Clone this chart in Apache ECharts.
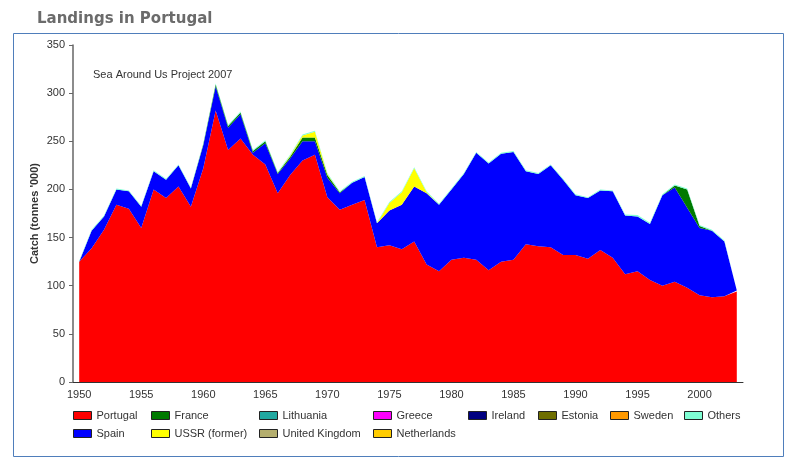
<!DOCTYPE html>
<html>
<head>
<meta charset="utf-8">
<script src="https://cdn.jsdelivr.net/npm/echarts@6/dist/echarts.min.js"></script>
<style>
html,body{margin:0;padding:0;background:#fff;}
#main{width:798px;height:467px;}
</style>
</head>
<body>
<div id="main"></div>
<script>
const years = [1950,1951,1952,1953,1954,1955,1956,1957,1958,1959,1960,1961,1962,1963,1964,1965,1966,1967,1968,1969,1970,1971,1972,1973,1974,1975,1976,1977,1978,1979,1980,1981,1982,1983,1984,1985,1986,1987,1988,1989,1990,1991,1992,1993,1994,1995,1996,1997,1998,1999,2000,2001,2002,2003];
const portugal = [125,139,158,184,180,160,200,191,203,182,222,282,241,253,236,226,196,215,230,236,192,179,184,189,140,142,138,146,122,115,127,129,127,116,125,127,143,141,140,132,132,128,137,129,112,115,106,100,104,98,90,88,89,94];
const spain = [0,18,14,16,18,22,19,19,22,19,24,25,23,25,2,22,20,17,20,14,20,17,23,24,25,36,46,57,74,69,73,87,111,111,112,112,76,75,85,78,62,63,62,69,61,57,58,94,98,83,70,69,57,1];
const france = [0,0,0,0,0,0,0,0,0,0,1,2,2,2,2,2,1,2,4,4,3,1,0,0,0,0,0,0,0,0,0,0,0,0,0,0,0,0,0,0,0,0,0,0,0,0,0,0,2,19,2,0,0,0];
const ussr = [0,0,0,0,0,0,0,0,0,0,0,0,0,0,0,0,0,1,2,6,1,0,0,0,0,8,13,19,1,0,0,0,0,0,0,0,0,0,0,0,0,0,0,0,0,0,0,0,0,0,0,0,0,0];
const others = [1,1,1,1,1,1,1,1,1,1,1,1,1,1,1,1,1,1,1,1,1,1,1,1,1,1,1,1,1,1,1,1,1,1,1,1,1,1,1,1,1,1,1,1,1,1.5,1.5,1,1,1,1,1,1,1];
const lithuania = [];
const uk = [];
const greece = [];
const netherlands = [];
const ireland = [];
const estonia = [];
const sweden = [];
const yTicks = [0,50,100,150,200,250,300,350];

const seriesDefs = [
  ['Portugal', portugal, '#FF0000'],
  ['Spain', spain, '#0000FF'],
  ['France', france, '#007A00'],
  ['USSR (former)', ussr, '#FFFF00'],
  ['Lithuania', lithuania, '#20A8A0'],
  ['United Kingdom', uk, '#B4AE6E'],
  ['Greece', greece, '#FF00FF'],
  ['Netherlands', netherlands, '#FFCC00'],
  ['Ireland', ireland, '#000080'],
  ['Estonia', estonia, '#6E6E00'],
  ['Sweden', sweden, '#FF9900'],
  ['Others', others, '#7FFFD4']
];

const legendCols = [
  [73, ['Portugal','Spain']],
  [151, ['France','USSR (former)']],
  [259, ['Lithuania','United Kingdom']],
  [373, ['Greece','Netherlands']],
  [468, ['Ireland']],
  [538, ['Estonia']],
  [610, ['Sweden']],
  [684, ['Others']]
];

const FONT = 'Liberation Sans, Arial, sans-serif';

const chart = echarts.init(document.getElementById('main'));
chart.setOption({
  animation: false,
  backgroundColor: '#fff',
  title: {
    text: 'Landings in Portugal',
    left: 32, top: 7,
    textStyle: {fontFamily: 'DejaVu Sans', fontWeight: 'bold', fontSize: 15, color: '#6b6b6b'}
  },
  graphic: [
    {type: 'rect', shape: {x: 13.5, y: 33.5, width: 770, height: 423}, style: {fill: 'none', stroke: '#4F7EBB', lineWidth: 1}, z: -1},
    {type: 'text', left: 93, top: 69, style: {text: 'Sea Around Us Project 2007', fill: '#333', font: '11px ' + FONT}}
  ],
  legend: legendCols.map(([x, names]) => ({
    orient: 'vertical', left: x, top: 410, padding: 0,
    data: names, icon: 'rect', itemWidth: 18, itemHeight: 8, itemGap: 7,
    selectedMode: false,
    itemStyle: {borderColor: '#222', borderWidth: 1},
    textStyle: {fontFamily: FONT, fontSize: 11, color: '#333'}
  })),
  grid: {left: 73, right: 55, top: 45, bottom: 85},
  xAxis: {
    type: 'category', data: years, boundaryGap: true,
    axisLine: {lineStyle: {color: '#333', width: 1}},
    axisTick: {interval: 4, alignWithLabel: true, length: 3, lineStyle: {color: '#333'}},
    axisLabel: {interval: 4, color: '#333', fontFamily: FONT, fontSize: 11, margin: 7},
    splitLine: {show: false}
  },
  yAxis: {
    type: 'value', min: yTicks[0], max: yTicks[yTicks.length-1], interval: 50,
    name: "Catch (tonnes '000)", nameLocation: 'middle', nameGap: 33, nameRotate: 90,
    nameMoveOverlap: false,
    nameTextStyle: {fontFamily: FONT, fontWeight: 'bold', fontSize: 11, color: '#333'},
    axisLine: {show: true, lineStyle: {color: '#666', width: 1.5}},
    axisTick: {show: true, length: 4, lineStyle: {color: '#666'}},
    axisLabel: {color: '#333', fontFamily: FONT, fontSize: 11, margin: 8},
    splitLine: {show: false}
  },
  series: seriesDefs.map(([name, data, color]) => ({
    name, type: 'line', stack: 'total', data,
    color, symbol: 'none', smooth: false,
    lineStyle: {width: 0},
    areaStyle: {color, opacity: 1},
    itemStyle: {color}
  }))
});
</script>
</body>
</html>
